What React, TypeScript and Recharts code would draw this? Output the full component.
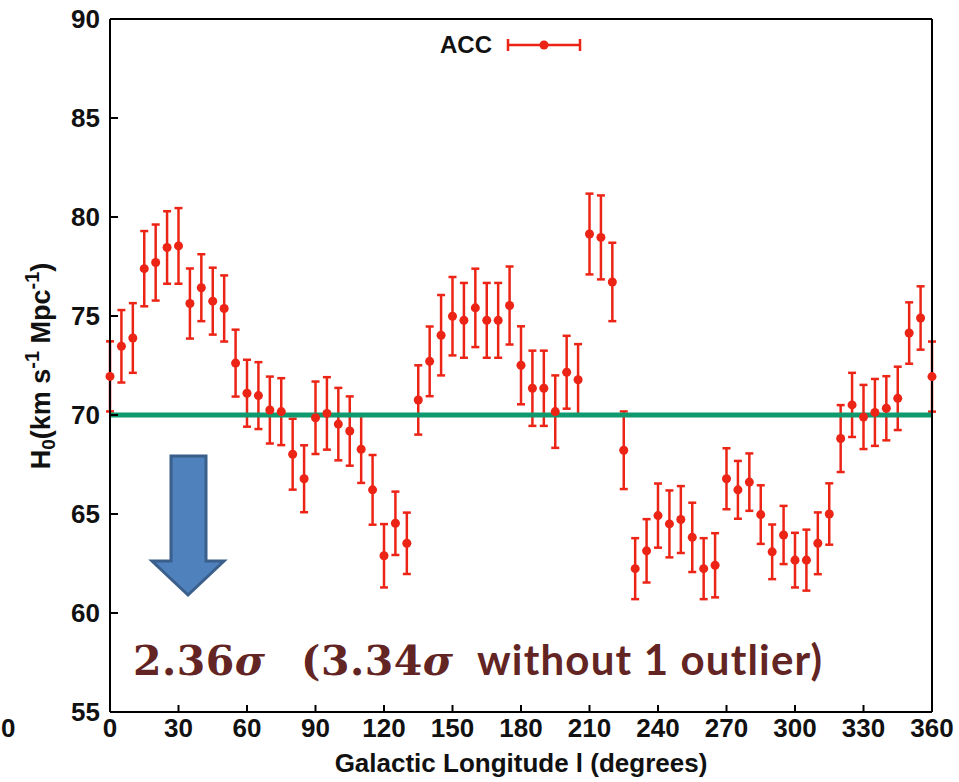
import React from 'react';
import { ScatterChart, Scatter, ErrorBar, XAxis, YAxis, ReferenceLine } from 'recharts';

// galactic longitude (deg)
const longitudes = [
  0, 5, 10, 15, 20, 25, 30, 35, 40, 45, 50, 55, 60, 65, 70, 75, 80, 85, 90, 95, 100, 105, 110, 115,
  120, 125, 130, 135, 140, 145, 150, 155, 160, 165, 170, 175, 180, 185, 190, 195, 200, 205, 210, 215,
  220, 225, 230, 235, 240, 245, 250, 255, 260, 265, 270, 275, 280, 285, 290, 295, 300, 305, 310, 315,
  320, 325, 330, 335, 340, 345, 350, 355, 360,
];

// H0 per direction (ACC)
const h0 = [
  71.95, 73.47, 73.89, 77.39, 77.7, 78.46, 78.54, 75.63, 76.43, 75.75, 75.38, 72.62, 71.1, 70.98, 70.25,
  70.17, 68.02, 66.78, 69.86, 70.08, 69.54, 69.19, 68.27, 66.22, 62.89, 64.53, 63.52, 70.76, 72.71,
  74.03, 74.99, 74.78, 75.41, 74.78, 74.78, 75.53, 72.51, 71.35, 71.35, 70.17, 72.16, 71.78, 79.14,
  78.97, 76.72, 68.22, 62.24, 63.14, 64.92, 64.5, 64.72, 63.82, 62.24, 62.41, 66.78, 66.22, 66.61,
  64.97, 63.09, 63.94, 62.67, 62.67, 63.52, 65.0, 68.81, 70.51, 69.9, 70.13, 70.34, 70.84, 74.14,
  74.9, 71.94,
];

const h0Err = [
  1.77, 1.83, 1.76, 1.9, 1.92, 1.83, 1.91, 1.77, 1.69, 1.69, 1.67, 1.69, 1.69, 1.69, 1.69, 1.69, 1.79,
  1.69, 1.83, 1.83, 1.83, 1.75, 1.7, 1.76, 1.6, 1.6, 1.55, 1.75, 1.76, 2.03, 1.98, 1.89, 1.98, 1.89,
  1.89, 1.97, 1.97, 1.9, 1.9, 1.83, 1.84, 1.8, 2.04, 2.12, 1.98, 1.96, 1.54, 1.6, 1.62, 1.69, 1.69,
  1.75, 1.54, 1.62, 1.54, 1.46, 1.45, 1.48, 1.38, 1.47, 1.38, 1.54, 1.56, 1.55, 1.69, 1.62, 1.62, 1.69,
  1.62, 1.6, 1.55, 1.6, 1.77,
];

const xTicks = [0, 30, 60, 90, 120, 150, 180, 210, 240, 270, 300, 330, 360];
const yTicks = [55, 60, 65, 70, 75, 80, 85, 90];
const h0Ref = 70;

const RED = '#ec2416';
const GREEN = '#0e9a6e';
const AXIS_FONT = '"Liberation Sans", Arial, sans-serif';
const SERIF = '"DejaVu Serif", "Liberation Serif", serif';
const NOTE = '#632523';

const data = longitudes.map((l, i) => ({ l, h: h0[i], e: h0Err[i] }));

const BottomTick = (p: any) => (
  <g>
    <line x1={p.x} y1={p.y} x2={p.x} y2={p.y - 7} stroke="#000" strokeWidth={2} />
    <text x={p.x} y={p.y + 24.5} textAnchor="middle" fontFamily={AXIS_FONT} fontWeight="bold" fontSize={26} fill="#111">
      {p.payload.value}
    </text>
  </g>
);
const TopTick = (p: any) => <line x1={p.x} y1={p.y} x2={p.x} y2={p.y + 7} stroke="#000" strokeWidth={2} />;
const LeftTick = (p: any) => (
  <g>
    <line x1={p.x} y1={p.y} x2={p.x + 8} y2={p.y} stroke="#000" strokeWidth={2} />
    <text x={p.x - 10} y={p.y + 9} textAnchor="end" fontFamily={AXIS_FONT} fontWeight="bold" fontSize={26} fill="#111">
      {p.payload.value}
    </text>
  </g>
);
const RightTick = (p: any) => <line x1={p.x} y1={p.y} x2={p.x - 8} y2={p.y} stroke="#000" strokeWidth={2} />;

const YTitle = () => (
  <text
    transform="translate(50,366) rotate(-90)"
    textAnchor="middle"
    fontFamily={AXIS_FONT}
    fontWeight="bold"
    fontSize={27}
    fill="#111"
  >
    H<tspan fontSize={19} dy={5}>0</tspan>
    <tspan dy={-5}>(km s</tspan>
    <tspan fontSize={20} dy={-11}>-1</tspan>
    <tspan dy={11}> Mpc</tspan>
    <tspan fontSize={20} dy={-11}>-1</tspan>
    <tspan dy={11}>)</tspan>
  </text>
);

export default function App() {
  return (
    <div style={{ position: 'absolute', left: 0, top: 0, width: 959, height: 782, background: '#fff' }}>
      <ScatterChart width={959} height={782} margin={{ top: 0, right: 0, bottom: 0, left: 0 }}>
        <XAxis
          xAxisId="b"
          dataKey="l"
          type="number"
          domain={[0, 360]}
          ticks={xTicks}
          interval={0}
          height={70}
          tickSize={0}
          tickMargin={0}
          tickLine={false}
          tick={<BottomTick />}
          axisLine={{ stroke: '#000', strokeWidth: 2 }}
          label={{
            value: 'Galactic Longitude l (degrees)',
            position: 'insideBottom',
            offset: 10,
            style: { fontFamily: AXIS_FONT, fontWeight: 'bold', fontSize: 26, fill: '#111' },
          }}
        />
        <XAxis
          xAxisId="t"
          orientation="top"
          type="number"
          domain={[0, 360]}
          ticks={xTicks}
          interval={0}
          height={19}
          tickSize={0}
          tickMargin={0}
          tickLine={false}
          tick={<TopTick />}
          axisLine={{ stroke: '#000', strokeWidth: 2 }}
        />
        <YAxis
          yAxisId="l"
          dataKey="h"
          type="number"
          domain={[55, 90]}
          ticks={yTicks}
          interval={0}
          width={110}
          tickSize={0}
          tickMargin={0}
          tickLine={false}
          tick={<LeftTick />}
          axisLine={{ stroke: '#000', strokeWidth: 2 }}
        />
        <YAxis
          yAxisId="r"
          orientation="right"
          type="number"
          domain={[55, 90]}
          ticks={yTicks}
          interval={0}
          width={27}
          tickSize={0}
          tickMargin={0}
          tickLine={false}
          tick={<RightTick />}
          axisLine={{ stroke: '#000', strokeWidth: 2 }}
        />
        <Scatter name="ACC" data={data} xAxisId="b" yAxisId="l" fill={RED} isAnimationActive={false}>
          <ErrorBar dataKey="e" direction="y" width={4} stroke={RED} strokeWidth={2.5} isAnimationActive={false} />
        </Scatter>
        <ReferenceLine y={h0Ref} xAxisId="b" yAxisId="l" stroke={GREEN} strokeWidth={5} />
      </ScatterChart>

      <svg
        width={959}
        height={782}
        style={{ position: 'absolute', left: 0, top: 0, pointerEvents: 'none', overflow: 'visible' }}
      >
        <YTitle />
        {/* legend */}
        <text x={492} y={53} textAnchor="end" fontFamily={AXIS_FONT} fontWeight="bold" fontSize={24} fill="#111">
          ACC
        </text>
        <g stroke={RED} strokeWidth={2.5}>
          <line x1={508} y1={45} x2={580} y2={45} />
          <line x1={508} y1={39} x2={508} y2={51} />
          <line x1={580} y1={39} x2={580} y2={51} />
        </g>
        <circle cx={544} cy={45} r={4.5} fill={RED} />
        {/* tick label left over from the neighbouring panel */}
        <text x={1} y={737} fontFamily={AXIS_FONT} fontWeight="bold" fontSize={26} fill="#111">
          0
        </text>
        {/* arrow */}
        <polygon
          points="171,456 206,456 206,561 224,561 188,595 152,561 171,561"
          fill="#4f81bd"
          stroke="#3a5f8b"
          strokeWidth={3}
          strokeLinejoin="miter"
        />
        {/* significance note */}
        <g fill={NOTE} fontWeight="bold">
          <text x={133} y={675} fontFamily={SERIF} fontSize={41} textLength={132} lengthAdjust="spacing">
            2.36<tspan fontStyle="italic">σ</tspan>
          </text>
          <text x={301} y={675} fontFamily={SERIF} fontSize={41} textLength={152} lengthAdjust="spacing">
            (3.34<tspan fontStyle="italic">σ</tspan>
          </text>
          <text x={477} y={675} fontFamily='Lato, "Open Sans", sans-serif' fontSize={42} textLength={345} lengthAdjust="spacing">
            without 1 outlier)
          </text>
        </g>
      </svg>
    </div>
  );
}
